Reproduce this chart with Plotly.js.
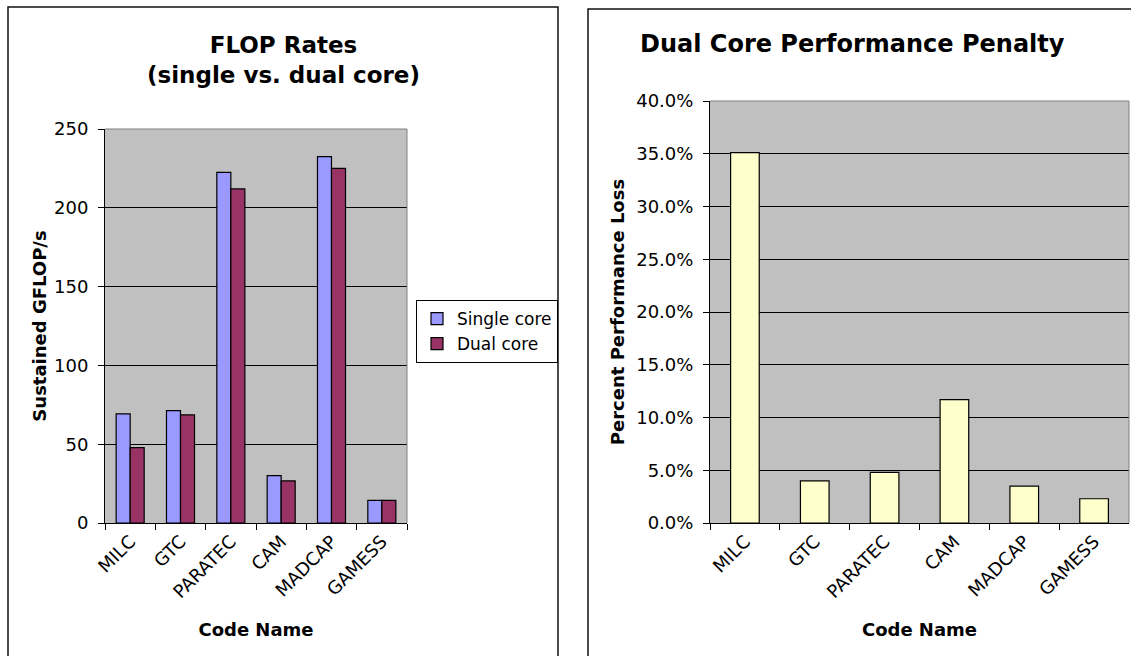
<!DOCTYPE html>
<html>
<head>
<meta charset="utf-8">
<script src="https://cdn.plot.ly/plotly-3.0.1.min.js"></script>
<style>
  html, body { margin: 0; padding: 0; background: #fff; }
  #chart { width: 1131px; height: 656px; }
</style>
</head>
<body>
<div id="chart"></div>
<script>
// ---- data ----
const codes = ['MILC', 'GTC', 'PARATEC', 'CAM', 'MADCAP', 'GAMESS'];
const singleCore = [69.2, 71.3, 222.5, 30.0, 232.5, 14.4];
const dualCore = [47.8, 68.6, 212.0, 26.7, 225.0, 14.4];
const penalty = [0.351, 0.040, 0.048, 0.117, 0.035, 0.023];

const leftTitle = 'FLOP Rates<br>(single vs. dual core)';
const rightTitle = 'Dual Core Performance Penalty';

// ---- styling ----
const FONT = 'DejaVu Sans, Verdana, sans-serif';
const W = 1131, H = 656;
const px = v => v / W;
const py = v => 1 - v / H;

const traces = [
  {
    type: 'bar', name: 'Single core', x: codes, y: singleCore,
    xaxis: 'x', yaxis: 'y',
    marker: { color: '#9999FF', line: { color: '#000', width: 1.2 } },
    hoverinfo: 'x+y+name'
  },
  {
    type: 'bar', name: 'Dual core', x: codes, y: dualCore,
    xaxis: 'x', yaxis: 'y',
    marker: { color: '#993366', line: { color: '#000', width: 1.2 } },
    hoverinfo: 'x+y+name'
  },
  {
    type: 'bar', name: 'Penalty', x: codes, y: penalty,
    xaxis: 'x2', yaxis: 'y2', showlegend: false, width: 0.41,
    marker: { color: '#FFFFCC', line: { color: '#000', width: 1.2 } },
    hovertemplate: '%{x}: %{y:.1%}<extra></extra>'
  }
];

const tickFont = { family: FONT, size: 18, color: '#000' };
const titleFont = { family: FONT, size: 18, color: '#000', weight: 'bold' };

const xCommon = {
  type: 'category', tickson: 'boundaries', ticks: 'outside', ticklen: 6,
  tickcolor: '#000', showline: true, linecolor: '#000', linewidth: 1,
  tickangle: -45, tickfont: tickFont, showgrid: false, fixedrange: true
};
const yCommon = {
  ticks: 'outside', ticklen: 6, tickcolor: '#000', showline: true,
  linecolor: '#000', linewidth: 1, showgrid: true, gridcolor: '#000',
  gridwidth: 1, zeroline: false, tickfont: tickFont, fixedrange: true,
  ticklabelstandoff: 6
};

const layout = {
  width: W, height: H,
  margin: { l: 0, r: 0, t: 0, b: 0 },
  paper_bgcolor: '#fff', plot_bgcolor: '#C0C0C0',
  barmode: 'group', bargap: 0.443, bargroupgap: 0,
  font: { family: FONT, color: '#000' },
  xaxis: Object.assign({}, xCommon, {
    domain: [px(105), px(407)], anchor: 'y',
    title: { text: '<b>Code Name</b>', font: titleFont, standoff: 22 }
  }),
  yaxis: Object.assign({}, yCommon, {
    domain: [1 - 523 / H, 1 - 129 / H], anchor: 'x',
    range: [0, 250], dtick: 50,
    title: { text: '<b>Sustained GFLOP/s</b>', font: titleFont, standoff: 2 }
  }),
  xaxis2: Object.assign({}, xCommon, {
    domain: [px(710), px(1129)], anchor: 'y2',
    title: { text: '<b>Code Name</b>', font: titleFont, standoff: 22 }
  }),
  yaxis2: Object.assign({}, yCommon, {
    domain: [1 - 523 / H, 1 - 101 / H], anchor: 'x2',
    range: [0, 0.4], dtick: 0.05, tickformat: '.1%',
    title: { text: '<b>Percent Performance Loss</b>', font: titleFont, standoff: 6 }
  }),
  showlegend: true,
  legend: {
    x: px(416), y: py(300), xanchor: 'left', yanchor: 'top',
    bgcolor: '#fff', bordercolor: '#000', borderwidth: 1,
    font: { family: FONT, size: 17, color: '#000' },
    tracegroupgap: 0, itemwidth: 30
  },
  annotations: [
    {
      text: '<b>' + leftTitle + '</b>', xref: 'paper', yref: 'paper',
      x: px(283), y: py(60), xanchor: 'center', yanchor: 'middle',
      showarrow: false, font: { family: FONT, size: 23, color: '#000' }
    },
    {
      text: '<b>' + rightTitle + '</b>', xref: 'paper', yref: 'paper',
      x: px(852), y: py(44), xanchor: 'center', yanchor: 'middle',
      showarrow: false, font: { family: FONT, size: 24, color: '#000' }
    }
  ],
  shapes: [
    // chart area frames
    { type: 'rect', xref: 'paper', yref: 'paper', x0: px(8), x1: px(558), y0: -0.1, y1: py(7),
      line: { color: '#111', width: 1.5 }, layer: 'below' },
    { type: 'rect', xref: 'paper', yref: 'paper', x0: px(588), x1: 1.05, y0: -0.1, y1: py(9),
      line: { color: '#111', width: 1.5 }, layer: 'below' },
    // grey plot-area border (top and right)
    { type: 'line', xref: 'x domain', yref: 'y domain', x0: 0, x1: 1, y0: 1, y1: 1,
      line: { color: '#808080', width: 1 }, layer: 'above' },
    { type: 'line', xref: 'x domain', yref: 'y domain', x0: 1, x1: 1, y0: 0, y1: 1,
      line: { color: '#808080', width: 1 }, layer: 'above' },
    { type: 'line', xref: 'x2 domain', yref: 'y2 domain', x0: 0, x1: 1, y0: 1, y1: 1,
      line: { color: '#808080', width: 1 }, layer: 'above' },
    { type: 'line', xref: 'x2 domain', yref: 'y2 domain', x0: 1, x1: 1, y0: 0, y1: 1,
      line: { color: '#808080', width: 1 }, layer: 'above' }
  ]
};

Plotly.newPlot('chart', traces, layout, { displayModeBar: false, staticPlot: false });
</script>
</body>
</html>
